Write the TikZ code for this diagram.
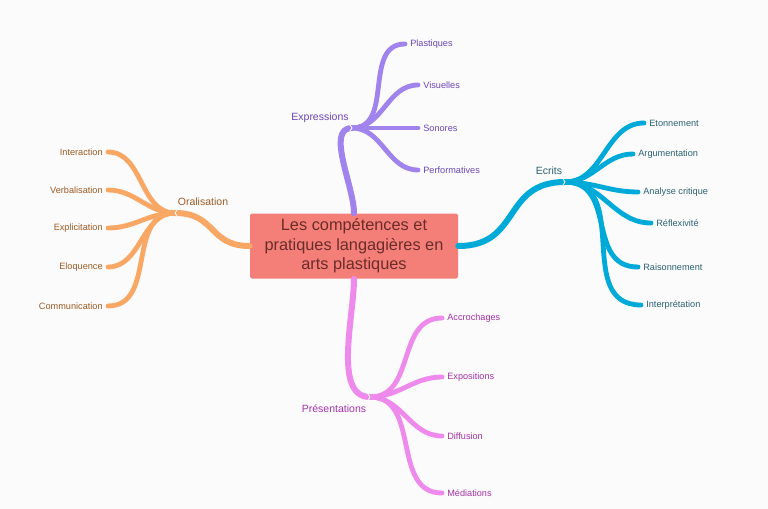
\documentclass[tikz,border=0pt]{standalone}
\usepackage{fontspec}
\setmainfont{Liberation Sans}
\usepackage{tikz}
\usetikzlibrary{
  arrows.meta,  % 箭头样式
  calc,         % 坐标计算
  positioning   % 节点相对定位
}
% 各分支的线条与文字颜色
\definecolor{fondpage}{HTML}{FBFBFB}
\definecolor{centrefond}{HTML}{F47F78}
\definecolor{centretexte}{HTML}{6A2C2A}
\definecolor{exprligne}{HTML}{A083EC}
\definecolor{exprtexte}{HTML}{6C45B6}
\definecolor{oralligne}{HTML}{F9A765}
\definecolor{oraltexte}{HTML}{9C5B24}
\definecolor{ecritligne}{HTML}{00AAD8}
\definecolor{ecrittexte}{HTML}{2B6171}
\definecolor{presligne}{HTML}{EE8AEC}
\definecolor{prestexte}{HTML}{A532A8}

\begin{document}
\begin{tikzpicture}[>=Stealth, line join=round, line cap=round, x=0.6pt, y=-0.6pt]
  % 统一设置：中心框、主干线、叶线、文字样式
  \tikzset{
    centre box/.style={fill=centrefond, text=centretexte, rounded corners=1pt,
      align=center, minimum width=124.8pt, minimum height=39pt, inner sep=0pt,
      font=\fontsize{9.8}{11.7}\selectfont},
    trunk line/.style={line width=3.6pt},
    leaf line/.style={line width=2.9pt},
    branch label/.style={font=\fontsize{6.3}{7.5}\selectfont, inner sep=1pt},
    leaf label/.style={font=\fontsize{5.5}{6.5}\selectfont, inner xsep=3pt, inner ysep=1pt},
    hub mark/.style={draw=white, line width=0.5pt}
  }

  % 背景与边界
  \fill[fondpage] (0,0) rectangle (768,509);
  \useasboundingbox (0,0) rectangle (768,509);

  % =======================
  % 中心节点
  % =======================
  \node[centre box] (centre) at (354,246)
    {Les compétences et\\pratiques langagières en\\arts plastiques};
  % 四边中点的小三角凸起
  \fill[centrefond] ($(centre.north)+(-3,0)$) -- ($(centre.north)+(0,-3)$) -- ($(centre.north)+(3,0)$) -- cycle;
  \fill[centrefond] ($(centre.south)+(-3,0)$) -- ($(centre.south)+(0,3)$) -- ($(centre.south)+(3,0)$) -- cycle;
  \fill[centrefond] ($(centre.west)+(0,-3)$) -- ($(centre.west)+(-3,0)$) -- ($(centre.west)+(0,3)$) -- cycle;
  \fill[centrefond] ($(centre.east)+(0,-3)$) -- ($(centre.east)+(3,0)$) -- ($(centre.east)+(0,3)$) -- cycle;

  % =======================
  % 分支 1：Expressions（上方）
  % =======================
  \begin{scope}[text=exprtexte]
    \coordinate (hubE) at (352,128); % 分叉点
    \node[branch label] (expressions) at (320,118) {Expressions};

    % 叶节点
    \node[leaf label, anchor=west] (plastiques)    at (405,44)  {Plastiques};
    \node[leaf label, anchor=west] (visuelles)     at (418,85)  {Visuelles};
    \node[leaf label, anchor=west] (sonores)       at (418,128) {Sonores};
    \node[leaf label, anchor=west] (performatives) at (418,170) {Performatives};

    % 主干与叶线
    \draw[trunk line, exprligne] (centre.north) to[out=90, in=180, looseness=0.8] (hubE);
    \draw[leaf line, exprligne] (hubE) to[out=0, in=180, looseness=1.1] (plastiques.west);
    \draw[leaf line, exprligne] (hubE) to[out=0, in=180] (visuelles.west);
    \draw[leaf line, exprligne] (hubE) -- (sonores.west);
    \draw[leaf line, exprligne] (hubE) to[out=0, in=180] (performatives.west);
    \draw[hub mark] ($(hubE)+(-2,-3)$) -- (hubE) -- ($(hubE)+(-2,3)$);
  \end{scope}

  % =======================
  % 分支 2：Oralisation（左侧）
  % =======================
  \begin{scope}[text=oraltexte]
    \coordinate (hubO) at (175,213); % 分叉点
    \node[branch label] (oralisation) at (203,202) {Oralisation};

    % 叶节点（文字在线端左侧）
    \node[leaf label, anchor=east] (interaction)   at (108,152) {Interaction};
    \node[leaf label, anchor=east] (verbalisation) at (108,190) {Verbalisation};
    \node[leaf label, anchor=east] (explicitation) at (108,228) {Explicitation};
    \node[leaf label, anchor=east] (eloquence)     at (108,267) {Eloquence};
    \node[leaf label, anchor=east] (communication) at (108,306) {Communication};

    % 主干与叶线
    \draw[trunk line, oralligne] (centre.west) to[out=180, in=0, looseness=1.3] (hubO);
    \draw[leaf line, oralligne] (hubO) to[out=180, in=0] (interaction.east);
    \draw[leaf line, oralligne] (hubO) to[out=180, in=0] (verbalisation.east);
    \draw[leaf line, oralligne] (hubO) to[out=180, in=0] (explicitation.east);
    \draw[leaf line, oralligne] (hubO) to[out=180, in=0] (eloquence.east);
    \draw[leaf line, oralligne] (hubO) to[out=180, in=0, looseness=1.1] (communication.east);
    \draw[hub mark] ($(hubO)+(2,-3)$) -- (hubO) -- ($(hubO)+(2,3)$);
  \end{scope}

  % =======================
  % 分支 3：Ecrits（右侧）
  % =======================
  \begin{scope}[text=ecrittexte]
    \coordinate (hubW) at (565,182); % 分叉点
    \node[branch label] (ecrits) at (549,171) {Ecrits};

    % 叶节点
    \node[leaf label, anchor=west] (etonnement)     at (644,123) {Etonnement};
    \node[leaf label, anchor=west] (argumentation)  at (633,154) {Argumentation};
    \node[leaf label, anchor=west] (analyse)        at (638,192) {Analyse critique};
    \node[leaf label, anchor=west] (reflexivite)    at (651,223) {Réflexivité};
    \node[leaf label, anchor=west] (raisonnement)   at (638,267) {Raisonnement};
    \node[leaf label, anchor=west] (interpretation) at (641,305) {Interprétation};

    % 主干与叶线
    \draw[trunk line, ecritligne] (centre.east) to[out=0, in=180, looseness=1.3] (hubW);
    \draw[leaf line, ecritligne] (hubW) to[out=0, in=180] (etonnement.west);
    \draw[leaf line, ecritligne] (hubW) to[out=0, in=180] (argumentation.west);
    \draw[leaf line, ecritligne] (hubW) to[out=0, in=180] (analyse.west);
    \draw[leaf line, ecritligne] (hubW) to[out=0, in=180] (reflexivite.west);
    \draw[leaf line, ecritligne] (hubW) to[out=0, in=180, looseness=1.2] (raisonnement.west);
    \draw[leaf line, ecritligne] (hubW) to[out=0, in=180, looseness=1.2] (interpretation.west);
    \draw[hub mark] ($(hubW)+(-2,-3)$) -- (hubW) -- ($(hubW)+(-2,3)$);
  \end{scope}

  % =======================
  % 分支 4：Présentations（下方）
  % =======================
  \begin{scope}[text=prestexte]
    \coordinate (hubP) at (370,397); % 分叉点
    \node[branch label] (presentations) at (334,409) {Présentations};

    % 叶节点
    \node[leaf label, anchor=west] (accrochages) at (442,318) {Accrochages};
    \node[leaf label, anchor=west] (expositions) at (442,377) {Expositions};
    \node[leaf label, anchor=west] (diffusion)   at (442,436) {Diffusion};
    \node[leaf label, anchor=west] (mediations)  at (442,493) {Médiations};

    % 主干与叶线
    \draw[trunk line, presligne] (centre.south) to[out=-90, in=180, looseness=0.8] (hubP);
    \draw[leaf line, presligne] (hubP) to[out=0, in=180, looseness=1.1] (accrochages.west);
    \draw[leaf line, presligne] (hubP) to[out=0, in=180] (expositions.west);
    \draw[leaf line, presligne] (hubP) to[out=0, in=180] (diffusion.west);
    \draw[leaf line, presligne] (hubP) to[out=0, in=180, looseness=1.1] (mediations.west);
    \draw[hub mark] ($(hubP)+(-2,-3)$) -- (hubP) -- ($(hubP)+(-2,3)$);
  \end{scope}

\end{tikzpicture}
\end{document}
